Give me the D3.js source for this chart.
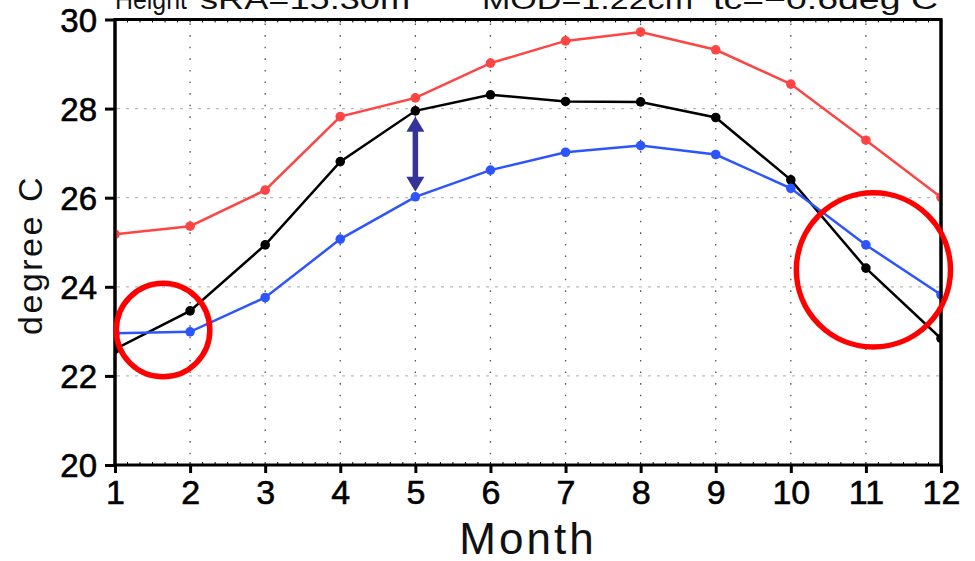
<!DOCTYPE html>
<html>
<head>
<meta charset="utf-8">
<script src="https://cdn.jsdelivr.net/npm/d3@7"></script>
<style>
  html, body { margin: 0; padding: 0; background: #fff; }
  svg { display: block; }
  text { font-family: "Liberation Sans", "DejaVu Sans", sans-serif; }
</style>
</head>
<body>
<svg id="chart" width="975" height="561"></svg>
<script>
// Monthly mean temperature (degree C)
const months = [1, 2, 3, 4, 5, 6, 7, 8, 9, 10, 11, 12];
const tempRed   = [25.18, 25.36, 26.17, 27.82, 28.24, 29.02, 29.52, 29.72, 29.32, 28.55, 27.29, 26.01];
const tempBlack = [22.60, 23.46, 24.94, 26.81, 27.95, 28.31, 28.16, 28.15, 27.80, 26.40, 24.42, 22.84];
const tempBlue  = [22.96, 22.99, 23.76, 25.07, 26.02, 26.62, 27.02, 27.17, 26.97, 26.21, 24.94, 23.82];

const yTicks = [20, 22, 24, 26, 28, 30];
const xTicks = months;

// Title pieces
const titleParts = [
  { text: "Height", x0: 115, x1: 187 },
  { text: "sRA=15.30m", x0: 200, x1: 410 },
  { text: "MOD=1.22cm", x0: 482, x1: 693 },
  { text: "tc=\u22120.6deg C", x0: 713, x1: 938 }
];

// Highlight circles: [month, degree, radius in degrees]
const highlightCircles = [
  { month: 1.64, temp: 23.03, r: 1.05 },
  { month: 11.1, temp: 24.38, r: 1.73 }
];
// Difference arrow at month 5 (black -> blue)
const arrowMonth = 5;

const svg = d3.select("#chart");
const pLeft = 115, pRight = 941, pTop = 19.5, pBottom = 465;

const x = d3.scaleLinear().domain([1, 12]).range([pLeft, pRight]);
const y = d3.scaleLinear().domain([20, 30]).range([pBottom, pTop]);

// Grid
const grid = svg.append("g");
grid.selectAll("line.v").data(xTicks.slice(1, -1)).join("line")
  .attr("x1", d => x(d)).attr("x2", d => x(d))
  .attr("y1", pTop + 4).attr("y2", pBottom - 2)
  .attr("stroke", "#555").attr("stroke-width", 1.3)
  .attr("stroke-dasharray", "1.6,10");
grid.selectAll("line.h").data(yTicks.slice(1, -1)).join("line")
  .attr("x1", pLeft + 2).attr("x2", pRight - 2)
  .attr("y1", d => y(d)).attr("y2", d => y(d))
  .attr("stroke", "#bbb").attr("stroke-width", 1.2)
  .attr("stroke-dasharray", "3,6");

// Minor ticks on top and bottom axes
const minor = d3.range(1, 12.0001, 1 / 6);
svg.append("g").selectAll("line").data(minor).join("line")
  .attr("x1", d => x(d)).attr("x2", d => x(d))
  .attr("y1", pBottom).attr("y2", pBottom - 3)
  .attr("stroke", "#000").attr("stroke-width", 1);
svg.append("g").selectAll("line").data(minor).join("line")
  .attr("x1", d => x(d)).attr("x2", d => x(d))
  .attr("y1", pTop).attr("y2", pTop + 3)
  .attr("stroke", "#000").attr("stroke-width", 1);

// Frame
svg.append("rect")
  .attr("x", pLeft).attr("y", pTop)
  .attr("width", pRight - pLeft).attr("height", pBottom - pTop)
  .attr("fill", "none").attr("stroke", "#000").attr("stroke-width", 3);

// Axes
const xAxis = d3.axisBottom(x).tickValues(xTicks).tickSize(8).tickPadding(4).tickFormat(d3.format("d"));
const gx = svg.append("g").attr("transform", `translate(0,${pBottom})`).call(xAxis);
gx.select(".domain").remove();
gx.selectAll(".tick line").attr("stroke", "#000").attr("stroke-width", 3);
gx.selectAll(".tick text").attr("font-size", 34).attr("fill", "#000")
  .attr("stroke", "#000").attr("stroke-width", 0.6).attr("dy", "0.78em");

const yAxis = d3.axisLeft(y).tickValues(yTicks).tickSize(10).tickPadding(8).tickFormat(d3.format("d"));
const gy = svg.append("g").attr("transform", `translate(${pLeft},0)`).call(yAxis);
gy.select(".domain").remove();
gy.selectAll(".tick line").attr("stroke", "#000").attr("stroke-width", 3);
gy.selectAll(".tick text").attr("font-size", 33).attr("fill", "#000")
  .attr("stroke", "#000").attr("stroke-width", 0.6).attr("dy", "0.36em");

// Series
const series = [
  { values: tempRed, color: "#ff4444" },
  { values: tempBlack, color: "#000000" },
  { values: tempBlue, color: "#2d55ff" }
];
const line = d3.line().x((d, i) => x(months[i])).y(d => y(d));
svg.append("clipPath").attr("id", "plot-clip")
  .append("rect").attr("x", pLeft).attr("y", pTop).attr("width", pRight - pLeft).attr("height", pBottom - pTop);
const plot = svg.append("g").attr("clip-path", "url(#plot-clip)");
series.forEach(s => {
  plot.append("path").datum(s.values)
    .attr("d", line).attr("fill", "none")
    .attr("stroke", s.color).attr("stroke-width", 2.5);
  plot.append("g").selectAll("circle").data(s.values).join("circle")
    .attr("cx", (d, i) => x(months[i])).attr("cy", d => y(d))
    .attr("r", 4.8).attr("fill", s.color);
});
// Side edges of the frame over the clipped markers
[pLeft, pRight].forEach(xv => {
  svg.append("line").attr("x1", xv).attr("x2", xv).attr("y1", pTop).attr("y2", pBottom)
    .attr("stroke", "#000").attr("stroke-width", 3);
});

// Double-headed arrow
const ai = months.indexOf(arrowMonth);
const ax = x(arrowMonth);
const yTopA = y(tempBlack[ai]) + 6, yBotA = y(tempBlue[ai]) - 5;
const headL = 15, headW = 9;
const arrowColor = "#333399";
svg.append("line").attr("x1", ax).attr("x2", ax)
  .attr("y1", yTopA + headL - 1).attr("y2", yBotA - headL + 1)
  .attr("stroke", arrowColor).attr("stroke-width", 5.5);
svg.append("path")
  .attr("d", `M${ax},${yTopA} L${ax - headW},${yTopA + headL} L${ax + headW},${yTopA + headL} Z`)
  .attr("fill", arrowColor);
svg.append("path")
  .attr("d", `M${ax},${yBotA} L${ax - headW},${yBotA - headL} L${ax + headW},${yBotA - headL} Z`)
  .attr("fill", arrowColor);

// Highlight circles
const pxPerDeg = y(20) - y(21);
svg.append("g").selectAll("circle").data(highlightCircles).join("circle")
  .attr("cx", d => x(d.month)).attr("cy", d => y(d.temp))
  .attr("r", d => d.r * pxPerDeg)
  .attr("fill", "none").attr("stroke", "#ff0000").attr("stroke-width", 5.5);

// Axis titles
svg.append("text")
  .attr("x", 528).attr("y", 554)
  .attr("text-anchor", "middle").attr("font-size", 44)
  .attr("letter-spacing", 3).attr("font-weight", 300)
  .attr("fill", "#111").text("Month");

svg.append("text")
  .attr("transform", "translate(42,255) rotate(-90)")
  .attr("text-anchor", "middle").attr("font-size", 34)
  .attr("letter-spacing", 2.5)
  .attr("fill", "#111").text("degree C");

// Title (partly above the top edge)
svg.append("g").selectAll("text").data(titleParts).join("text")
  .attr("x", d => d.x0).attr("y", 8.5)
  .attr("font-size", 28)
  .attr("textLength", d => d.x1 - d.x0).attr("lengthAdjust", "spacingAndGlyphs")
  .attr("fill", "#111").text(d => d.text);
</script>
</body>
</html>
